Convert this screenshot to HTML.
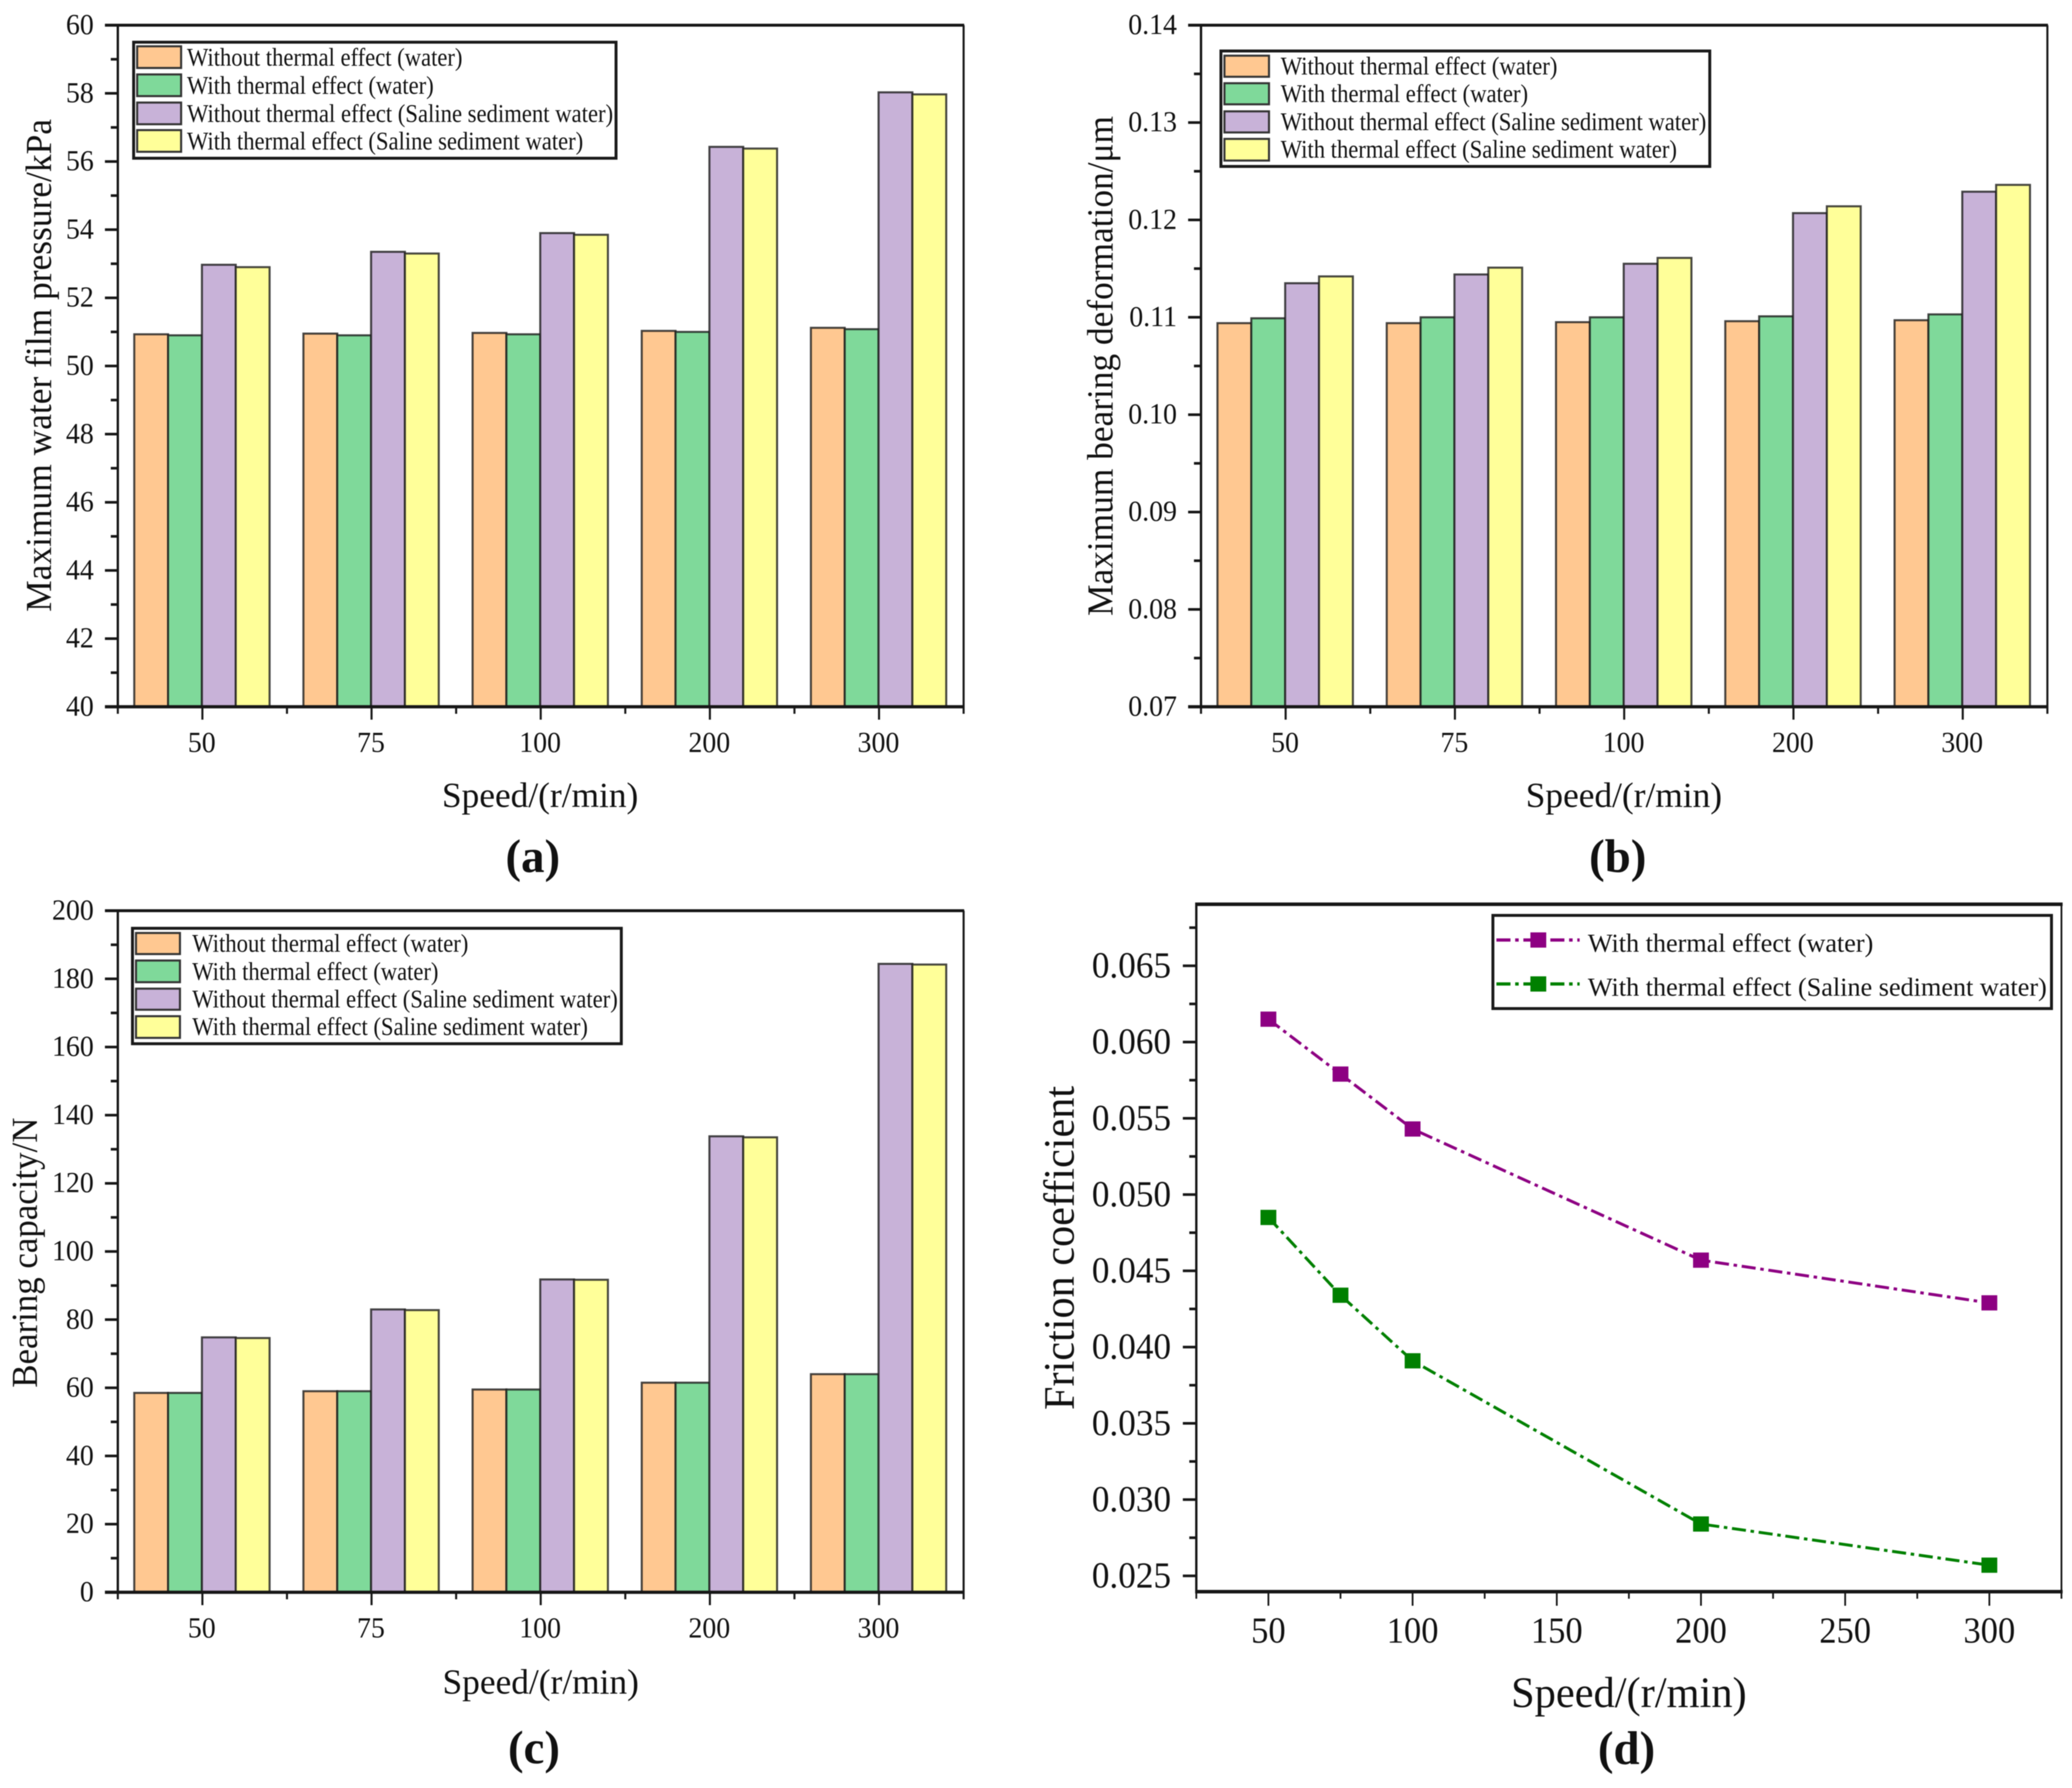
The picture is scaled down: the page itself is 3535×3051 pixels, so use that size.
<!DOCTYPE html>
<html lang="en">
<head>
<meta charset="utf-8">
<title>Thermal effect bearing charts</title>
<style>
html,body{margin:0;padding:0;background:#fff;}
body{width:3535px;height:3051px;overflow:hidden;}
svg{display:block;filter:blur(0.8px);}
text{font-family:"Liberation Serif","Times New Roman",serif;fill:#111;}
.leg{font-size:43px;}
.ax{font-size:62px;}
.sp{font-size:60px;}
.pl{font-size:80px;font-weight:bold;text-anchor:middle;}
.box{fill:#fff;stroke:#1a1a1a;stroke-width:5;}
.sw{stroke:#333;stroke-width:3.5;}
</style>
</head>
<body>
<svg xmlns="http://www.w3.org/2000/svg" width="3535" height="3051" viewBox="0 0 3535 3051">
<rect width="3535" height="3051" fill="#fff"/>

<!-- Panel A -->
<g id="panel-a">
  <g id="plot-a"></g>
  <text class="ax" transform="translate(87,1044) rotate(-90)" textLength="841" lengthAdjust="spacingAndGlyphs">Maximum water film pressure/kPa</text>
  <text class="sp" x="754" y="1377" textLength="335" lengthAdjust="spacingAndGlyphs">Speed/(r/min)</text>
  <text class="pl" x="909" y="1488">(a)</text>
  <g>
    <rect class="box" x="228" y="72" width="823" height="198"/>
    <rect class="sw" x="234" y="79" width="75" height="37" fill="#FFC891"/>
    <rect class="sw" x="234" y="127" width="75" height="37" fill="#7FD99A"/>
    <rect class="sw" x="234" y="175" width="75" height="37" fill="#C8B2D8"/>
    <rect class="sw" x="234" y="222" width="75" height="37" fill="#FFFF99"/>
    <text class="leg" x="319" y="112" textLength="470" lengthAdjust="spacingAndGlyphs">Without thermal effect (water)</text>
    <text class="leg" x="319" y="160" textLength="421" lengthAdjust="spacingAndGlyphs">With thermal effect (water)</text>
    <text class="leg" x="319" y="208" textLength="727" lengthAdjust="spacingAndGlyphs">Without thermal effect (Saline sediment water)</text>
    <text class="leg" x="319" y="255" textLength="676" lengthAdjust="spacingAndGlyphs">With thermal effect (Saline sediment water)</text>
  </g>
</g>

<!-- Panel B -->
<g id="panel-b">
  <g id="plot-b"></g>
  <text class="ax" transform="translate(1898,1051) rotate(-90)" textLength="853" lengthAdjust="spacingAndGlyphs">Maximum bearing deformation/μm</text>
  <text class="sp" x="2603" y="1377" textLength="335" lengthAdjust="spacingAndGlyphs">Speed/(r/min)</text>
  <text class="pl" x="2760" y="1488">(b)</text>
  <g>
    <rect class="box" x="2083" y="87" width="834" height="197"/>
    <rect class="sw" x="2089" y="95" width="76" height="36" fill="#FFC891"/>
    <rect class="sw" x="2089" y="142" width="76" height="36" fill="#7FD99A"/>
    <rect class="sw" x="2089" y="190" width="76" height="36" fill="#C8B2D8"/>
    <rect class="sw" x="2089" y="237" width="76" height="37" fill="#FFFF99"/>
    <text class="leg" x="2185" y="127" textLength="472" lengthAdjust="spacingAndGlyphs">Without thermal effect (water)</text>
    <text class="leg" x="2185" y="174" textLength="422" lengthAdjust="spacingAndGlyphs">With thermal effect (water)</text>
    <text class="leg" x="2185" y="222" textLength="726" lengthAdjust="spacingAndGlyphs">Without thermal effect (Saline sediment water)</text>
    <text class="leg" x="2185" y="269" textLength="676" lengthAdjust="spacingAndGlyphs">With thermal effect (Saline sediment water)</text>
  </g>
</g>

<!-- Panel C -->
<g id="panel-c">
  <g id="plot-c"></g>
  <text class="ax" transform="translate(63,2368) rotate(-90)" textLength="461" lengthAdjust="spacingAndGlyphs">Bearing capacity/N</text>
  <text class="sp" x="755" y="2890" textLength="335" lengthAdjust="spacingAndGlyphs">Speed/(r/min)</text>
  <text class="pl" x="911" y="3009">(c)</text>
  <g>
    <rect class="box" x="226" y="1584" width="834" height="197"/>
    <rect class="sw" x="232" y="1592" width="75" height="36" fill="#FFC891"/>
    <rect class="sw" x="232" y="1639" width="75" height="37" fill="#7FD99A"/>
    <rect class="sw" x="232" y="1687" width="75" height="36" fill="#C8B2D8"/>
    <rect class="sw" x="232" y="1734" width="75" height="37" fill="#FFFF99"/>
    <text class="leg" x="328" y="1624" textLength="471" lengthAdjust="spacingAndGlyphs">Without thermal effect (water)</text>
    <text class="leg" x="328" y="1672" textLength="420" lengthAdjust="spacingAndGlyphs">With thermal effect (water)</text>
    <text class="leg" x="328" y="1719" textLength="726" lengthAdjust="spacingAndGlyphs">Without thermal effect (Saline sediment water)</text>
    <text class="leg" x="328" y="1766" textLength="675" lengthAdjust="spacingAndGlyphs">With thermal effect (Saline sediment water)</text>
  </g>
</g>

<!-- Panel D -->
<g id="panel-d">
  <g id="plot-d"></g>
  <text transform="translate(1832,2406) rotate(-90)" font-size="74" textLength="553" lengthAdjust="spacingAndGlyphs">Friction coefficient</text>
  <text x="2578" y="2913" font-size="74" textLength="402" lengthAdjust="spacingAndGlyphs">Speed/(r/min)</text>
  <text class="pl" x="2775" y="3010">(d)</text>
  <g>
    <rect class="box" x="2547" y="1562" width="953" height="159"/>
    <line x1="2553" y1="1604" x2="2695" y2="1604" stroke="#8d0082" stroke-width="5.5" stroke-dasharray="24 8 6 8"/>
    <rect x="2611" y="1591" width="27" height="26" fill="#8d0082"/>
    <line x1="2553" y1="1679" x2="2695" y2="1679" stroke="#008000" stroke-width="5.5" stroke-dasharray="24 8 6 8"/>
    <rect x="2611" y="1666" width="27" height="26" fill="#008000"/>
    <text x="2709" y="1624" font-size="44" textLength="487" lengthAdjust="spacingAndGlyphs">With thermal effect (water)</text>
    <text x="2709" y="1699" font-size="44" textLength="783" lengthAdjust="spacingAndGlyphs">With thermal effect (Saline sediment water)</text>
  </g>
</g>
</svg>

<script>
// ---- Shared categories ----
const speedCategories = ['50', '75', '100', '200', '300'];
const seriesColors = ['#FFC891', '#7FD99A', '#C8B2D8', '#FFFF99'];

// ---- Panel (a) Maximum water film pressure, kPa ----
const pressureNoThermalWater = [50.93, 50.95, 50.97, 51.03, 51.12];
const pressureThermalWater = [50.90, 50.90, 50.93, 51.00, 51.08];
const pressureNoThermalSaline = [52.97, 53.35, 53.90, 56.43, 58.03];
const pressureThermalSaline = [52.90, 53.30, 53.85, 56.38, 57.97];
const pressureTicks = ['40', '42', '44', '46', '48', '50', '52', '54', '56', '58', '60'];

// ---- Panel (b) Maximum bearing deformation, um ----
const deformNoThermalWater = [0.1094, 0.1094, 0.1095, 0.1096, 0.1097];
const deformThermalWater = [0.1099, 0.1100, 0.1100, 0.1101, 0.1103];
const deformNoThermalSaline = [0.1135, 0.1144, 0.1155, 0.1207, 0.1229];
const deformThermalSaline = [0.1142, 0.1151, 0.1161, 0.1214, 0.1236];
const deformTicks = ['0.07', '0.08', '0.09', '0.10', '0.11', '0.12', '0.13', '0.14'];

// ---- Panel (c) Bearing capacity, N ----
const capacityNoThermalWater = [58.5, 59.0, 59.5, 61.5, 64.0];
const capacityThermalWater = [58.5, 59.0, 59.5, 61.5, 64.0];
const capacityNoThermalSaline = [74.8, 83.0, 91.8, 133.8, 184.4];
const capacityThermalSaline = [74.6, 82.8, 91.7, 133.5, 184.2];
const capacityTicks = ['0', '20', '40', '60', '80', '100', '120', '140', '160', '180', '200'];

// ---- Panel (d) Friction coefficient ----
const frictionSpeeds = [50, 75, 100, 200, 300];
const frictionWater = [0.0615, 0.0579, 0.0543, 0.0457, 0.0429];
const frictionSaline = [0.0485, 0.0434, 0.0391, 0.0284, 0.0257];
const frictionXTicks = ['50', '100', '150', '200', '250', '300'];
const frictionYTicks = ['0.025', '0.030', '0.035', '0.040', '0.045', '0.050', '0.055', '0.060', '0.065'];

const NS = 'http://www.w3.org/2000/svg';
const INK = '#161616';

function mk(parent, tag, attrs, name) {
  const el = document.createElementNS(NS, tag);
  for (const k in attrs) el.setAttribute(k, attrs[k]);
  
  
  parent.appendChild(el);
  return el;
}
function ln(parent, x1, y1, x2, y2, w, name) {
  return mk(parent, 'line', { x1: x1, y1: y1, x2: x2, y2: y2, stroke: INK, 'stroke-width': w }, name);
}
function label(parent, str, x, y, size, anchor, squeeze, name) {
  const el = mk(parent, 'text', { x: x, y: y, 'font-size': size, 'text-anchor': anchor }, name);
  el.textContent = str;
  const len = el.getComputedTextLength();
  if (len > 0) {
    el.setAttribute('textLength', (len * squeeze).toFixed(1));
    el.setAttribute('lengthAdjust', 'spacingAndGlyphs');
  }
  return el;
}

function drawBarPanel(root, L, R, T, B, series, yTicks, xCats) {
  const yMin = Number(yTicks[0]);
  const yMax = Number(yTicks[yTicks.length - 1]);
  const yScale = function (v) { return B - (v - yMin) / (yMax - yMin) * (B - T); };
  const slot = (R - L) / xCats.length;
  const xCenter = function (i) { return L + slot * (i + 0.5); };
  const barW = slot * 0.2;

  series.forEach(function (values, s) {
    values.forEach(function (v, i) {
      const x = xCenter(i) + (s - 2) * barW - 0.8;
      const top = yScale(v);
      mk(root, 'rect', {
        x: x, y: top, width: barW, height: B - top,
        fill: seriesColors[s], stroke: 'rgba(25,25,25,0.8)', 'stroke-width': 3.5
      }, 'bar');
    });
  });

  // frame
  ln(root, L, T, L, B, 4, 'y-axis-line');
  ln(root, R, T, R, B, 3.5, 'right-axis-line');
  ln(root, L - 22, T, R + 1, T, 5, 'top-axis-line');
  ln(root, L - 22, B, R + 1, B, 5.5, 'x-axis-line');

  // y ticks
  const step = (yMax - yMin) / (yTicks.length - 1);
  yTicks.forEach(function (t, i) {
    const v = Number(t);
    const y = yScale(v);
    ln(root, L - 22, y, L, y, 4.5, 'y-major-tick');
    label(root, t, L - 41, y + 15, 50, 'end', 0.95, 'y-tick-label');
    if (i < yTicks.length - 1) {
      const my = yScale(v + step / 2);
      ln(root, L - 12, my, L, my, 4.5, 'y-minor-tick');
    }
  });

  // x ticks
  xCats.forEach(function (c, i) {
    const x = xCenter(i);
    ln(root, x, B, x, B + 22, 3.5, 'x-major-tick');
    label(root, c, x - 1, B + 77, 50, 'middle', 0.95, 'x-tick-label');
  });
  for (let i = 0; i <= xCats.length; i++) {
    ln(root, L + slot * i, B, L + slot * i, B + 12, 3.5, 'x-minor-tick');
  }
}

drawBarPanel(document.getElementById('plot-a'), 201, 1644, 43, 1206,
  [pressureNoThermalWater, pressureThermalWater, pressureNoThermalSaline, pressureThermalSaline],
  pressureTicks, speedCategories);
drawBarPanel(document.getElementById('plot-b'), 2049, 3493, 43, 1206,
  [deformNoThermalWater, deformThermalWater, deformNoThermalSaline, deformThermalSaline],
  deformTicks, speedCategories);
drawBarPanel(document.getElementById('plot-c'), 201, 1644, 1554, 2717,
  [capacityNoThermalWater, capacityThermalWater, capacityNoThermalSaline, capacityThermalSaline],
  capacityTicks, speedCategories);

(function drawFriction() {
  const root = document.getElementById('plot-d');
  const L = 2041, R = 3517, T = 1543, B = 2716;
  const xScale = function (v) { return L + (v - 25) / 300 * (R - L); };
  const yScale = function (v) { return 2689 - (v - 0.025) / 0.04 * 1041; };

  ln(root, L, T, L, B, 4, 'y-axis-line');
  ln(root, R, T, R, B, 3, 'right-axis-line');
  ln(root, L - 2, T, R + 2, T, 6, 'top-axis-line');
  ln(root, L - 2, B, R + 2, B, 6, 'x-axis-line');

  frictionYTicks.forEach(function (t) {
    const v = Number(t);
    const y = yScale(v);
    ln(root, L - 23, y, L, y, 4.5, 'y-major-tick');
    label(root, t, 1998, y + 20, 62, 'end', 0.97, 'y-tick-label');
    const my = yScale(v + 0.0025);
    ln(root, L - 12, my, L, my, 4.5, 'y-minor-tick');
  });

  frictionXTicks.forEach(function (t) {
    const v = Number(t);
    const x = xScale(v);
    ln(root, x, B, x, B + 24, 3, 'x-major-tick');
    label(root, t, x, B + 87, 62, 'middle', 0.95, 'x-tick-label');
    ln(root, x - 123, B, x - 123, B + 12, 3, 'x-minor-tick');
    if (v === 300) ln(root, x + 123, B, x + 123, B + 12, 3, 'x-minor-tick');
  });

  [[frictionWater, '#8d0082', 'water'], [frictionSaline, '#008000', 'saline']].forEach(function (cfg) {
    const values = cfg[0], color = cfg[1];
    const pts = values.map(function (v, i) {
      return xScale(frictionSpeeds[i]).toFixed(1) + ',' + yScale(v).toFixed(1);
    }).join(' ');
    mk(root, 'polyline', {
      points: pts, fill: 'none', stroke: color, 'stroke-width': 5,
      'stroke-dasharray': '24 8 6 8'
    }, 'series-line-' + cfg[2]);
    values.forEach(function (v, i) {
      mk(root, 'rect', {
        x: xScale(frictionSpeeds[i]) - 13.5, y: yScale(v) - 13, width: 27, height: 26, fill: color
      }, 'point-' + cfg[2]);
    });
  });
})();
</script>
</body>
</html>
